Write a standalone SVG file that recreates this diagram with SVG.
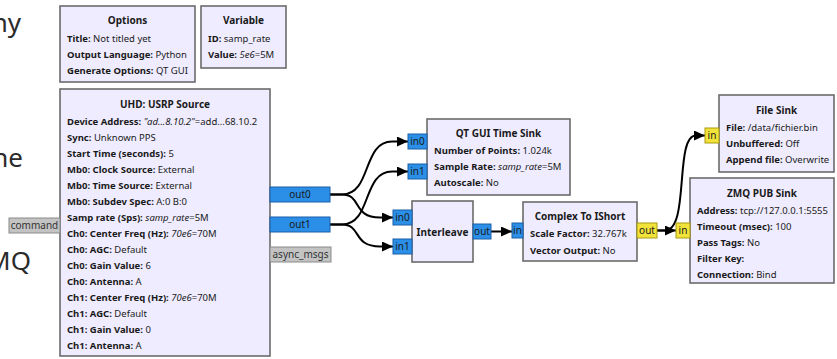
<svg xmlns="http://www.w3.org/2000/svg" width="837" height="359" viewBox="0 0 837 359">
<defs>
<marker id="arr" markerUnits="userSpaceOnUse" markerWidth="11" markerHeight="10" refX="11" refY="5" orient="auto">
<path d="M0,0 L11,5 L0,10 z" fill="#000"/>
</marker>
<style>
.blk{fill:#EFECFF;stroke:#6b6b6b;stroke-width:1.6}
.t{font-family:"Noto Sans","DejaVu Sans",sans-serif;font-size:9.5px;fill:#1a1a1a}
.b{font-weight:bold}
.i{font-style:italic}
.title{font-family:"Noto Sans","DejaVu Sans",sans-serif;font-size:10px;font-weight:bold;text-anchor:middle;fill:#1a1a1a}
.pb{fill:#2B8FE8;stroke:#1a5fa8;stroke-width:1}
.py{fill:#F2E33A;stroke:#a89a10;stroke-width:1}
.pg{fill:#C3C3C3;stroke:#8a8a8a;stroke-width:1}
.pt{font-family:"Noto Sans","DejaVu Sans",sans-serif;font-size:10px;text-anchor:middle;fill:#1a1a1a}
.pgt{font-family:"Noto Sans","DejaVu Sans",sans-serif;font-size:10px;text-anchor:middle;fill:#333}
.c{fill:none;stroke:#000;stroke-width:2;marker-end:url(#arr)}
.bg{font-family:"Noto Sans","Open Sans",sans-serif;font-size:26px;fill:#2b2b2b;text-anchor:end}
</style>
</defs>

<g id="background">
<text class="bg" x="21" y="32">ny</text>
<text class="bg" x="23" y="167">ne</text>
<text class="bg" x="31" y="270">MQ</text>
</g>

<g id="connectors">
<path class="c" d="M330,194.5 H342 C372,194.5 362,141.5 392,141.5 H408"/>
<path class="c" d="M330,194.5 H342 C362,194.5 352,217.5 380,217.5 H393"/>
<path class="c" d="M330,224.5 H342 C372,224.5 362,171.5 392,171.5 H408"/>
<path class="c" d="M330,224.5 H342 C362,224.5 352,246.5 380,246.5 H393"/>
<path class="c" d="M491,231.5 H512"/>
<path class="c" d="M657,230.5 H676"/>
<path class="c" d="M657,230.5 H665 C690,230.5 674,135.5 696,135.5 H705"/>
</g>

<g id="options">
<rect class="blk" x="60" y="6" width="135" height="76"/>
<text class="title" x="127.5" y="24">Options</text>
<text class="t" x="67" y="42"><tspan class="b">Title:</tspan> Not titled yet</text>
<text class="t" x="67" y="58"><tspan class="b">Output Language:</tspan> Python</text>
<text class="t" x="67" y="74"><tspan class="b">Generate Options:</tspan> QT GUI</text>
</g>

<g id="variable">
<rect class="blk" x="201" y="6" width="85" height="62"/>
<text class="title" x="243.5" y="24">Variable</text>
<text class="t" x="208" y="42"><tspan class="b">ID:</tspan> samp_rate</text>
<text class="t" x="208" y="58"><tspan class="b">Value:</tspan> <tspan class="i">5e6</tspan>=5M</text>
</g>

<g id="usrp_source">
<rect class="blk" x="60" y="89" width="210" height="267"/>
<text class="title" x="165" y="108">UHD: USRP Source</text>
<text class="t" x="67" y="125"><tspan class="b">Device Address:</tspan> <tspan class="i">"ad...8.10.2"</tspan>=add...68.10.2</text>
<text class="t" x="67" y="141"><tspan class="b">Sync:</tspan> Unknown PPS</text>
<text class="t" x="67" y="157"><tspan class="b">Start Time (seconds):</tspan> 5</text>
<text class="t" x="67" y="173"><tspan class="b">Mb0: Clock Source:</tspan> External</text>
<text class="t" x="67" y="189"><tspan class="b">Mb0: Time Source:</tspan> External</text>
<text class="t" x="67" y="205"><tspan class="b">Mb0: Subdev Spec:</tspan> A:0 B:0</text>
<text class="t" x="67" y="221"><tspan class="b">Samp rate (Sps):</tspan> <tspan class="i">samp_rate</tspan>=5M</text>
<text class="t" x="67" y="237"><tspan class="b">Ch0: Center Freq (Hz):</tspan> <tspan class="i">70e6</tspan>=70M</text>
<text class="t" x="67" y="253"><tspan class="b">Ch0: AGC:</tspan> Default</text>
<text class="t" x="67" y="269"><tspan class="b">Ch0: Gain Value:</tspan> 6</text>
<text class="t" x="67" y="285"><tspan class="b">Ch0: Antenna:</tspan> A</text>
<text class="t" x="67" y="301"><tspan class="b">Ch1: Center Freq (Hz):</tspan> <tspan class="i">70e6</tspan>=70M</text>
<text class="t" x="67" y="317"><tspan class="b">Ch1: AGC:</tspan> Default</text>
<text class="t" x="67" y="333"><tspan class="b">Ch1: Gain Value:</tspan> 0</text>
<text class="t" x="67" y="349"><tspan class="b">Ch1: Antenna:</tspan> A</text>
<rect class="pg" x="9" y="218" width="51" height="15"/>
<text class="pgt" x="34.5" y="229">command</text>
<rect class="pb" x="270" y="187" width="60" height="15"/>
<text class="pt" x="300" y="198">out0</text>
<rect class="pb" x="270" y="217" width="60" height="15"/>
<text class="pt" x="300" y="228">out1</text>
<rect class="pg" x="270" y="247" width="61" height="15"/>
<text class="pgt" x="300.5" y="258">async_msgs</text>
</g>

<g id="qt_time_sink">
<rect class="blk" x="427" y="119" width="143" height="76"/>
<text class="title" x="498.5" y="137">QT GUI Time Sink</text>
<text class="t" x="434" y="154"><tspan class="b">Number of Points:</tspan> 1.024k</text>
<text class="t" x="434" y="170"><tspan class="b">Sample Rate:</tspan> <tspan class="i">samp_rate</tspan>=5M</text>
<text class="t" x="434" y="186"><tspan class="b">Autoscale:</tspan> No</text>
<rect class="pb" x="408" y="134" width="19" height="15"/>
<text class="pt" x="417.5" y="145">in0</text>
<rect class="pb" x="408" y="164" width="19" height="15"/>
<text class="pt" x="417.5" y="175">in1</text>
</g>

<g id="interleave">
<rect class="blk" x="412" y="201" width="61" height="61"/>
<text class="title" x="442.5" y="236">Interleave</text>
<rect class="pb" x="393" y="210" width="19" height="15"/>
<text class="pt" x="402.5" y="221">in0</text>
<rect class="pb" x="393" y="239" width="19" height="15"/>
<text class="pt" x="402.5" y="250">in1</text>
<rect class="pb" x="473" y="224" width="18" height="15"/>
<text class="pt" x="482" y="235">out</text>
</g>

<g id="complex_to_ishort">
<rect class="blk" x="523" y="202" width="114" height="59"/>
<text class="title" x="580" y="220">Complex To IShort</text>
<text class="t" x="530" y="237"><tspan class="b">Scale Factor:</tspan> 32.767k</text>
<text class="t" x="530" y="254"><tspan class="b">Vector Output:</tspan> No</text>
<rect class="pb" x="512" y="223" width="11" height="15"/>
<text class="pt" x="517.5" y="234">in</text>
<rect class="py" x="637" y="223" width="20" height="15"/>
<text class="pt" x="647" y="234">out</text>
</g>

<g id="file_sink">
<rect class="blk" x="719" y="95" width="115" height="77"/>
<text class="title" x="776.5" y="114">File Sink</text>
<text class="t" x="726" y="131"><tspan class="b">File:</tspan> /data/fichier.bin</text>
<text class="t" x="726" y="147"><tspan class="b">Unbuffered:</tspan> Off</text>
<text class="t" x="726" y="163"><tspan class="b">Append file:</tspan> Overwrite</text>
<rect class="py" x="705" y="128" width="14" height="15"/>
<text class="pt" x="712" y="139">in</text>
</g>

<g id="zmq_pub_sink">
<rect class="blk" x="690" y="178" width="144" height="105"/>
<text class="title" x="762" y="197">ZMQ PUB Sink</text>
<text class="t" x="697" y="214"><tspan class="b">Address:</tspan> tcp://127.0.0.1:5555</text>
<text class="t" x="697" y="230"><tspan class="b">Timeout (msec):</tspan> 100</text>
<text class="t" x="697" y="246"><tspan class="b">Pass Tags:</tspan> No</text>
<text class="t" x="697" y="262"><tspan class="b">Filter Key:</tspan></text>
<text class="t" x="697" y="278"><tspan class="b">Connection:</tspan> Bind</text>
<rect class="py" x="676" y="223" width="14" height="15"/>
<text class="pt" x="683" y="234">in</text>
</g>
</svg>
